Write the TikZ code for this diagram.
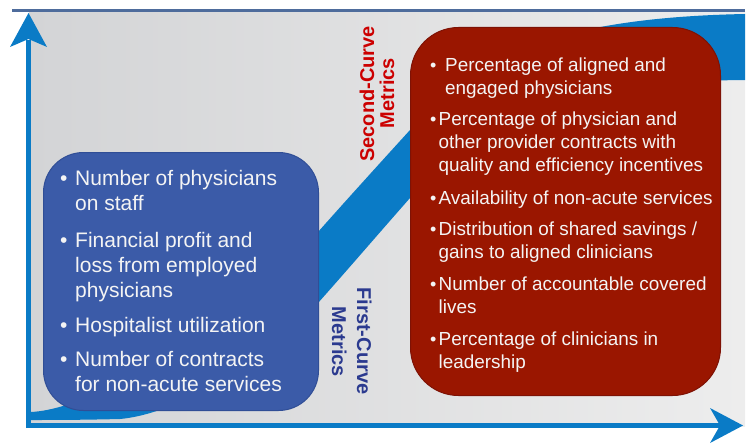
\documentclass[tikz,border=0pt]{standalone}
\usepackage{fontspec}
\setmainfont{Liberation Sans}
\definecolor{axisblue}{HTML}{0A7BC6}
\definecolor{topline}{HTML}{4E6C9C}
\definecolor{boxblue}{HTML}{3B5BA8}
\definecolor{boxblueedge}{HTML}{304E96}
\definecolor{boxred}{HTML}{9A1600}
\definecolor{boxrededge}{HTML}{7E1205}
\definecolor{lblred}{HTML}{CC0000}
\definecolor{lblnavy}{HTML}{2B3A8F}
\definecolor{panelL}{HTML}{D3D4D6}
\definecolor{panelR}{HTML}{EDEDED}
\definecolor{txtwhite}{HTML}{F4F4F4}
\begin{document}
\begin{tikzpicture}[x=1pt,y=-1pt,
  bluetxt/.style={anchor=base west, inner sep=0pt, align=left, text=txtwhite, font=\fontsize{21}{25.3}\selectfont},
  redtxt/.style={anchor=base west, inner sep=0pt, align=left, text=txtwhite, font=\fontsize{18.9}{23.3}\selectfont},
  bluebul/.style={anchor=base west, inner sep=0pt, text=txtwhite, font=\fontsize{21}{25}\selectfont},
  redbul/.style={anchor=base west, inner sep=0pt, text=txtwhite, font=\fontsize{18}{23}\selectfont},
  curvelbl/.style={anchor=base, inner sep=0pt, font=\fontsize{20}{20}\selectfont\bfseries},
  metricbox/.style={anchor=north west, inner sep=0pt, line width=1pt}
]
\useasboundingbox (0,0) rectangle (749,444);
% background panel
\shade[left color=panelL, right color=panelR] (29,12) rectangle (745,426);
\draw[topline, line width=3pt] (12,10.5) -- (745,10.5);
% S-curve swoosh
\fill[axisblue] (31,412) .. controls (110,408) and (258,298) .. (318,232)
  .. controls (350,196) and (380,163) .. (410,130)
  .. controls (470,64) and (540,18) .. (745,14)
  -- (745,80)
  .. controls (600,80) and (470,130) .. (410,198)
  .. controls (380,232) and (350,267) .. (318,303)
  .. controls (250,370) and (175,414) .. (120,419)
  .. controls (80,420) and (50,420) .. (31,420) -- cycle;
% axes
\coordinate (origin) at (28.5,425.5);
\coordinate (ytip) at (28.5,13);
\coordinate (xtip) at (743,425.5);
\draw[axisblue, line width=5pt] (28.5,428) -- (28.5,40);
\draw[axisblue, line width=5pt] (26,425.5) -- (720,425.5);
\fill[axisblue] (ytip) -- (47,47) -- (28.5,39) -- (10,47) -- cycle;
\fill[axisblue] (xtip) -- (710,408) -- (720,425.5) -- (710,443) -- cycle;
% boxes
\node[metricbox, draw=boxblueedge, fill=boxblue, rounded corners=40pt,
      minimum width=275pt, minimum height=258pt] (bluebox) at (43,152) {};
\node[metricbox, draw=boxrededge, fill=boxred, rounded corners=48pt,
      minimum width=310pt, minimum height=368pt] (redbox) at (410,27) {};
% blue items (anchor base = baseline of the last line)
\node[bluebul] (bb1) at (60,185) {•};
\node[bluetxt] (b1) at (75,210.3) {Number of physicians\\on staff};
\node[bluebul] (bb2) at (60,247) {•};
\node[bluetxt] (b2) at (75,297.6) {Financial profit and\\loss from employed\\physicians};
\node[bluebul] (bb3) at (60,332) {•};
\node[bluetxt] (b3) at (75,332) {Hospitalist utilization};
\node[bluebul] (bb4) at (60,366) {•};
\node[bluetxt] (b4) at (75,391.3) {Number of contracts\\for non-acute services};
% red items
\node[redbul] (rb1) at (430,71) {•};
\node[redtxt] (r1) at (445,94.3) {Percentage of aligned and\\engaged physicians};
\node[redbul] (rb2) at (430,125) {•};
\node[redtxt] (r2) at (438.5,171.6) {Percentage of physician and\\other provider contracts with\\quality and efficiency incentives};
\node[redbul] (rb3) at (430,204) {•};
\node[redtxt] (r3) at (438.5,204) {Availability of non-acute services};
\node[redbul] (rb4) at (430,235) {•};
\node[redtxt] (r4) at (438.5,258.3) {Distribution of shared savings /\\gains to aligned clinicians};
\node[redbul] (rb5) at (430,290) {•};
\node[redtxt] (r5) at (438.5,313.3) {Number of accountable covered\\lives};
\node[redbul] (rb6) at (430,345) {•};
\node[redtxt] (r6) at (438.5,368.3) {Percentage of clinicians in\\leadership};
% curve labels
\node[curvelbl, text=lblred, rotate=90] (sc1) at (374,94) {Second-Curve};
\node[curvelbl, text=lblred, rotate=90] (sc2) at (394,93) {Metrics};
\node[curvelbl, text=lblnavy, rotate=-90] (fc1) at (357,341) {First-Curve};
\node[curvelbl, text=lblnavy, rotate=-90] (fc2) at (332,342) {Metrics};
\end{tikzpicture}
\end{document}
